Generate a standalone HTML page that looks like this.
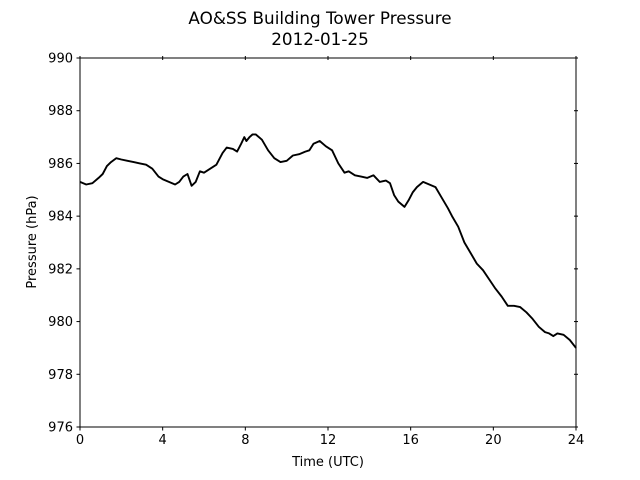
<!DOCTYPE html>
<html><head><meta charset="utf-8"><style>
body{margin:0;background:#fff;}
svg{display:block;font-family:"DejaVu Sans","Liberation Sans",sans-serif;}
</style></head><body>
<svg id="chart" width="640" height="480">
<text x="320" y="24" text-anchor="middle" font-size="16.8">AO&amp;SS Building Tower Pressure</text>
<text x="320" y="45" text-anchor="middle" font-size="16.8">2012-01-25</text>
<g id="axes"></g>
<text x="328" y="466" text-anchor="middle" font-size="13">Time (UTC)</text>
<text transform="translate(36,242) rotate(-90)" text-anchor="middle" font-size="13">Pressure (hPa)</text>
</svg>
<script>
const hours=[0,0.3,0.6,0.9,1.1,1.3,1.5,1.75,2,2.3,2.6,2.9,3.2,3.5,3.8,4,4.3,4.6,4.8,5,5.2,5.4,5.6,5.8,6,6.3,6.6,6.9,7.1,7.4,7.6,7.8,7.95,8.05,8.2,8.35,8.5,8.8,9.1,9.4,9.7,10,10.3,10.6,10.9,11.1,11.3,11.6,11.9,12.2,12.5,12.8,13,13.3,13.6,13.9,14.2,14.5,14.8,15,15.2,15.4,15.7,15.9,16.1,16.3,16.6,16.9,17.2,17.5,17.8,18,18.3,18.6,18.9,19.2,19.5,19.8,20.1,20.4,20.7,21,21.3,21.6,21.9,22.2,22.5,22.7,22.9,23.1,23.4,23.7,24];
const pressure=[985.3,985.2,985.25,985.45,985.6,985.9,986.05,986.2,986.15,986.1,986.05,986.0,985.95,985.8,985.5,985.4,985.3,985.2,985.3,985.5,985.6,985.15,985.3,985.7,985.65,985.8,985.95,986.4,986.6,986.55,986.45,986.75,987.0,986.85,987.0,987.1,987.1,986.9,986.5,986.2,986.05,986.1,986.3,986.35,986.45,986.5,986.75,986.85,986.65,986.5,986.0,985.65,985.7,985.55,985.5,985.45,985.55,985.3,985.35,985.25,984.8,984.55,984.35,984.6,984.9,985.1,985.3,985.2,985.1,984.7,984.3,984.0,983.6,983.0,982.6,982.2,981.95,981.6,981.25,980.95,980.6,980.6,980.55,980.35,980.1,979.8,979.6,979.55,979.45,979.55,979.5,979.3,979.0];
const xTicks=[0,4,8,12,16,20,24];
const yTicks=[976,978,980,982,984,986,988,990];
const X0=80,X1=576,Y0=427,Y1=58;
const xs=h=>X0+(h-0)/(24-0)*(X1-X0);
const ys=p=>Y0-(p-976)/(990-976)*(Y0-Y1);
const NS="http://www.w3.org/2000/svg";
const g=document.getElementById('axes');
function mk(t,a){const e=document.createElementNS(NS,t);for(const k in a)e.setAttribute(k,a[k]);g.appendChild(e);return e;}
const line=mk('path',{d:hours.map((h,i)=>(i?'L':'M')+xs(h).toFixed(1)+' '+ys(pressure[i]).toFixed(1)).join(''),fill:'none',stroke:'#000','stroke-width':1.9,'stroke-linejoin':'round'});


const frame=mk('rect',{x:X0,y:Y1,width:X1-X0,height:Y0-Y1,fill:'none',stroke:'#000','stroke-width':1});


xTicks.forEach(t=>{const x=xs(t);
mk('line',{x1:x,x2:x,y1:Y0,y2:Y0+3.5,stroke:'#000'});
mk('line',{x1:x,x2:x,y1:Y1-2,y2:Y1+2,stroke:'#000'});
const tx=mk('text',{x:x,y:Y0+17,'text-anchor':'middle','font-size':13});tx.textContent=t;

});
yTicks.forEach(t=>{const y=ys(t);
mk('line',{x1:X0-3.5,x2:X0,y1:y,y2:y,stroke:'#000'});
mk('line',{x1:X1-2,x2:X1+2,y1:y,y2:y,stroke:'#000'});
const tx=mk('text',{x:X0-7,y:y+4.5,'text-anchor':'end','font-size':13});tx.textContent=t;

});
</script>
</body></html>
